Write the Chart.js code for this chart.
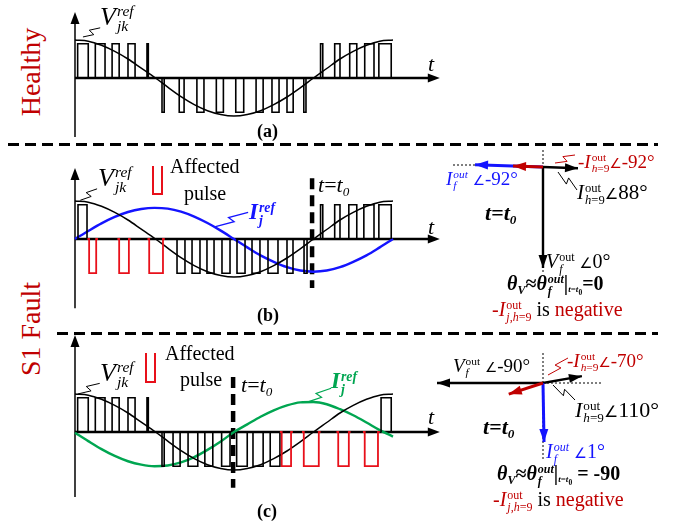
<!DOCTYPE html>
<html>
<head>
<meta charset="utf-8">
<script src="https://cdn.jsdelivr.net/npm/chart.js@4.4.1/dist/chart.umd.min.js"></script>
<style>
  html, body { margin: 0; padding: 0; background: #fff; }
  #page { position: relative; width: 673px; height: 525px; overflow: hidden; background: #fff; }
  canvas { position: absolute; }
  .lbl { position: absolute; font-family: "Liberation Serif", "Times New Roman", serif; white-space: nowrap; line-height: 1; color: #000; }
  .ss { display: inline-flex; flex-direction: column; font-size: 0.6em; line-height: 0.95; vertical-align: 0.55em; margin-left: 1px; }
  .sb { font-size: 0.6em; vertical-align: -0.3em; }
  .ang { font-family: "DejaVu Sans", sans-serif; font-size: 0.72em; font-weight: normal; }
  .rot { transform: translate(-50%, -50%) rotate(-90deg); transform-origin: center; color: #c00000; font-size: 28px; }
  .dash { position: absolute; height: 3px; background: repeating-linear-gradient(to right, #000 0 11px, transparent 11px 17px); }
  .icon { position: absolute; border: 2px solid #e8101a; border-top: none; width: 7px; }
  .red { color: #c00000; }
  .blue { color: #1414ff; }
  .green { color: #00a651; }
</style>
</head>
<body>
<div id="page">
  <canvas id="waveA" width="400" height="145" style="left:55px;top:0px"></canvas>
  <canvas id="waveB" width="400" height="186" style="left:55px;top:146px"></canvas>
  <canvas id="waveC" width="400" height="191" style="left:55px;top:334px"></canvas>
  <canvas id="phasorB" width="253" height="186" style="left:420px;top:146px"></canvas>
  <canvas id="phasorC" width="253" height="191" style="left:420px;top:334px"></canvas>
</div>
<script>

// electrical angle (deg) sampled every 15 deg over one fundamental period
const angles = [0, 15, 30, 45, 60, 75, 90, 105, 120, 135, 150, 165, 180,
  195, 210, 225, 240, 255, 270, 285, 300, 315, 330, 345, 360];

// V_jk^ref (same in all three panels)
const vRef = [1.0, 0.97, 0.86, 0.7, 0.5, 0.26, 0.02, -0.24, -0.49, -0.7, -0.86, -0.96, -1.0,
  -0.96, -0.86, -0.7, -0.5, -0.26, 0.0, 0.25, 0.5, 0.7, 0.86, 0.97, 1.0];

// I_j^ref in panel (b) and (c)
const iRefB = [0.0, 0.21, 0.41, 0.58, 0.71, 0.79, 0.82, 0.8, 0.72, 0.59, 0.42, 0.22, 0.0,
  -0.22, -0.43, -0.6, -0.74, -0.83, -0.86, -0.83, -0.74, -0.6, -0.43, -0.22, 0.0];
const iRefC = [-0.02, -0.24, -0.45, -0.63, -0.77, -0.86, -0.9, -0.88, -0.8, -0.66, -0.47, -0.25, 0.0,
  0.2, 0.4, 0.57, 0.7, 0.78, 0.79, 0.73, 0.6, 0.44, 0.25, 0.05, -0.12];

// switching pulses [on, off] in deg
const aPos = [[3, 15], [23, 34], [42, 50], [60, 68], [81.5, 83], [278, 280.5], [294, 300], [311, 319], [328, 338.5], [344, 358]];
const aNeg = [[98.5, 101], [118, 123.5], [138, 146], [160, 168], [182, 191], [205, 213], [223, 231], [240, 247], [259, 261.5]];

const bPos = [[3.4, 13.6], [278, 280.5], [294, 300], [310, 319], [327, 338.5], [344, 358]];
const bNeg = [[115.5, 124.5], [132.5, 141.5], [149.4, 157.4], [166.4, 175.5], [183.4, 192.5], [200.4, 209.4], [218.5, 229.8], [240, 246.8], [259.3, 262.7]];
const bRed = [[16, 24], [50, 61], [84, 99.6]];

const cPos = [[3, 15], [23, 34], [42, 50], [60, 68], [81.5, 83], [346.5, 358]];
const cNeg = [[98.5, 101], [111, 119], [128, 139], [147, 156], [166, 175.5], [183, 195], [201.5, 213], [221, 232]];
const cRed = [[234, 244.6], [259, 276], [298, 310], [328, 343]];

const t0B = 268.4;
const t0C = 179;

// phasors: angle as drawn (0 = down, +90 = right), length
const phasorNamesB = ["V_f", "I_f", "-I_h9", "I_h9"];
const phasorAngB = [0, -92, -92, 88];
const phasorLenB = [101, 68, 30, 35];

const phasorNamesC = ["V_f", "I_f", "-I_h9", "I_h9"];
const phasorAngC = [-90, 1, -72, 100];
const phasorLenC = [106, 59, 36, 39.5];

const PULSE = 0.9;
const BLACK = "#000";
const RED = "#e8101a";
const BLUE = "#1414ff";
const GREEN = "#00a651";

function curve(values) {
  return angles.map((a, i) => ({ x: a, y: values[i] }));
}

function pulsePath(list, sign, stub) {
  const pts = [];
  list.forEach(p => {
    const s = stub || 0;
    pts.push({ x: p[0] - s, y: 0 });
    pts.push({ x: p[0], y: 0 });
    pts.push({ x: p[0], y: sign * PULSE });
    pts.push({ x: p[1], y: sign * PULSE });
    pts.push({ x: p[1], y: 0 });
    pts.push({ x: p[1] + s, y: 0 });
    pts.push({ x: p[1], y: null });
  });
  return pts;
}

function yRange(height, baseFromTop) {
  return { min: -(height - baseFromTop) / 38, max: baseFromTop / 38 };
}

function arrowHead(ctx, x0, y0, x1, y1, len, wid, color) {
  const a = Math.atan2(y1 - y0, x1 - x0);
  ctx.save();
  ctx.fillStyle = color;
  ctx.beginPath();
  ctx.moveTo(x1, y1);
  ctx.lineTo(x1 - len * Math.cos(a) + wid * Math.sin(a), y1 - len * Math.sin(a) - wid * Math.cos(a));
  ctx.lineTo(x1 - len * Math.cos(a) - wid * Math.sin(a), y1 - len * Math.sin(a) + wid * Math.cos(a));
  ctx.closePath();
  ctx.fill();
  ctx.restore();
}

function zigzag(ctx, x0, y0, x1, y1, color, width) {
  const dx = x1 - x0, dy = y1 - y0;
  const l = Math.hypot(dx, dy);
  const nx = -dy / l * 3, ny = dx / l * 3;
  ctx.save();
  ctx.strokeStyle = color;
  ctx.lineWidth = width || 1;
  ctx.beginPath();
  ctx.moveTo(x0, y0);
  ctx.lineTo(x0 + dx * 0.55 + nx, y0 + dy * 0.55 + ny);
  ctx.lineTo(x0 + dx * 0.45 - nx, y0 + dy * 0.45 - ny);
  ctx.lineTo(x1, y1);
  ctx.stroke();
  ctx.restore();
}

// axes with arrows + leader lines, in data units of the chart
const wavePlugin = {
  id: "waveAxes",
  beforeDatasetsDraw(chart, args, opts) {
    const { ctx, scales: { x, y } } = chart;
    const x0 = x.getPixelForValue(0);
    const xe = x.getPixelForValue(413);
    const yb = y.getPixelForValue(0);
    ctx.save();
    ctx.strokeStyle = BLACK;
    ctx.lineWidth = 1.5;
    ctx.beginPath();
    ctx.moveTo(x0, y.getPixelForValue(opts.yLow));
    ctx.lineTo(x0, y.getPixelForValue(opts.yHigh) + 8);
    ctx.stroke();
    arrowHead(ctx, x0, yb, x0, y.getPixelForValue(opts.yHigh), 12, 4.5, BLACK);
    ctx.lineWidth = 2.5;
    ctx.beginPath();
    ctx.moveTo(x0, yb);
    ctx.lineTo(xe - 8, yb);
    ctx.stroke();
    arrowHead(ctx, x0, yb, xe, yb, 12, 4.5, BLACK);
    ctx.restore();
  },
  afterDatasetsDraw(chart, args, opts) {
    const { ctx, scales: { x, y } } = chart;
    (opts.leaders || []).forEach(l => {
      zigzag(ctx, x.getPixelForValue(l[0]), y.getPixelForValue(l[1]),
        x.getPixelForValue(l[2]), y.getPixelForValue(l[3]), l[4], l[5]);
    });
  }
};

const phasorPlugin = {
  id: "phasorArrows",
  afterDatasetsDraw(chart, args, opts) {
    const { ctx } = chart;
    chart.data.datasets.forEach((ds, i) => {
      if (!ds.arrow) return;
      const pts = chart.getDatasetMeta(i).data;
      const a = pts[0], b = pts[pts.length - 1];
      arrowHead(ctx, a.x, a.y, b.x, b.y, 13, 4.5, ds.borderColor);
    });
    const { scales: { x, y } } = chart;
    (opts.leaders || []).forEach(l => {
      zigzag(ctx, x.getPixelForValue(l[0]), y.getPixelForValue(l[1]),
        x.getPixelForValue(l[2]), y.getPixelForValue(l[3]), l[4], l[5]);
    });
  }
};

function line(data, color, width, extra) {
  return Object.assign({
    data, borderColor: color, borderWidth: width, pointRadius: 0,
    fill: false, spanGaps: false, showLine: true
  }, extra || {});
}

function waveChart(id, height, base, datasets, opts) {
  return new Chart(document.getElementById(id), {
    type: "line",
    data: { datasets },
    options: {
      responsive: false, animation: false, devicePixelRatio: 1,
      layout: { padding: 0 },
      events: [],
      scales: {
        x: { type: "linear", display: false, min: -22.64, max: 430.2 },
        y: Object.assign({ type: "linear", display: false }, yRange(height, base))
      },
      plugins: { legend: { display: false }, tooltip: { enabled: false }, waveAxes: opts }
    },
    plugins: [wavePlugin]
  });
}

const smooth = { cubicInterpolationMode: "monotone" };

waveChart("waveA", 145, 78, [
  line(pulsePath(aPos, 1), BLACK, 1.6),
  line(pulsePath(aNeg, -1), BLACK, 1.6),
  line(curve(vRef), BLACK, 1.5, smooth)
], { yLow: -1.55, yHigh: 1.74, leaders: [[9, 1.08, 28.5, 1.32, BLACK, 1]] });

waveChart("waveB", 186, 93, [
  line(pulsePath(bRed, -1, 2), RED, 1.8),
  line(pulsePath(bPos, 1), BLACK, 1.6),
  line(pulsePath(bNeg, -1), BLACK, 1.6),
  line(curve(vRef), BLACK, 1.5, smooth),
  line(curve(iRefB), BLUE, 2.4, smooth),
  line([{ x: t0B, y: 1.6 }, { x: t0B, y: -1.29 }], BLACK, 4.5, { borderDash: [11, 6] })
], { yLow: -1.82, yHigh: 1.87, leaders: [[6, 1.02, 25, 1.32, BLACK, 1], [158, 0.32, 196, 0.7, BLUE, 1.2]] });

waveChart("waveC", 191, 98, [
  line(pulsePath(cRed, -1, 2), RED, 1.8),
  line(pulsePath(cPos, 1), BLACK, 1.6),
  line(pulsePath(cNeg, -1), BLACK, 1.6),
  line(curve(vRef), BLACK, 1.5, smooth),
  line(curve(iRefC), GREEN, 2.4, smooth),
  line([{ x: t0C, y: 1.45 }, { x: t0C, y: -1.47 }], BLACK, 4.5, { borderDash: [11, 6] })
], { yLow: -1.71, yHigh: 2.55, leaders: [[3, 1.0, 28, 1.28, BLACK, 1], [262, 0.78, 290, 1.15, GREEN, 1.2]] });

function phasorSets(angs, lens, colors, widths) {
  return angs.map((a, i) => {
    const r = a * Math.PI / 180;
    return line([{ x: 0, y: 0 }, { x: lens[i] * Math.sin(r), y: -lens[i] * Math.cos(r) }],
      colors[i], widths[i], { arrow: true, order: i === 2 ? 0 : 1 });
  });
}

function phasorChart(id, ymax, ymin, datasets, opts) {
  return new Chart(document.getElementById(id), {
    type: "scatter",
    data: { datasets },
    options: {
      responsive: false, animation: false, devicePixelRatio: 1,
      layout: { padding: 0 },
      events: [],
      scales: {
        x: { type: "linear", display: false, min: -123, max: 130 },
        y: { type: "linear", display: false, min: ymin, max: ymax }
      },
      plugins: { legend: { display: false }, tooltip: { enabled: false }, phasorArrows: opts }
    },
    plugins: [phasorPlugin]
  });
}

const dotted = { borderDash: [2, 2], order: 5 };

phasorChart("phasorB", 21, -165, [
  ...phasorSets(phasorAngB, phasorLenB, [BLACK, BLUE, "#c00000", BLACK], [2.4, 3, 3, 2.4]),
  line([{ x: 0, y: 17 }, { x: 0, y: -106 }], BLACK, 1, dotted),
  line([{ x: -90, y: 2 }, { x: -68, y: 2 }], BLACK, 1, dotted)
], { leaders: [[12, 4, 32, 12, "#c00000", 1], [15, -5, 34, -23, BLACK, 1]] });

phasorChart("phasorC", 49, -142, [
  ...phasorSets(phasorAngC, phasorLenC, [BLACK, BLUE, "#c00000", BLACK], [2.4, 3, 3, 2.4]),
  line([{ x: 0, y: 30 }, { x: 0, y: -77 }], BLACK, 1, dotted),
  line([{ x: 0, y: 0 }, { x: 60, y: 0 }], BLACK, 1, dotted)
], { leaders: [[5, 8, 25, 25, "#c00000", 1], [10, -2, 32, -17, BLACK, 1]] });

// ---- text ----
const page = document.getElementById("page");

function lbl(x, base, size, html, cls, extra) {
  const d = document.createElement("div");
  d.className = "lbl " + (cls || "");
  d.style.left = x + "px";
  d.style.top = (base - 0.86 * size) + "px";
  d.style.fontSize = size + "px";
  if (extra) Object.assign(d.style, extra);
  d.innerHTML = html;
  page.appendChild(d);
  return d;
}

function rot(cx, cy, text) {
  const d = document.createElement("div");
  d.className = "lbl rot";
  d.style.left = cx + "px";
  d.style.top = cy + "px";
  d.textContent = text;
  page.appendChild(d);
}

function dash(x, y, w) {
  const d = document.createElement("div");
  d.className = "dash";
  d.style.left = x + "px";
  d.style.top = y + "px";
  d.style.width = w + "px";
  page.appendChild(d);
}

function icon(x, y, h) {
  const d = document.createElement("div");
  d.className = "icon";
  d.style.left = x + "px";
  d.style.top = y + "px";
  d.style.height = h + "px";
  page.appendChild(d);
}

const ang = '<span class="ang">∠</span>';
const vref = '<i>V</i><span class="ss"><i>ref</i><i>jk</i></span>';
const iref = '<b><i>I</i></b><span class="ss"><b><i>ref</i></b><b><i>j</i></b></span>';
const tt0 = '<i>t</i>=<i>t</i><span class="sb"><i>0</i></span>';
const tt0b = '<b><i>t</i>=<i>t</i><span class="sb"><i>0</i></span></b>';
const ih9 = '<i>I</i><span class="ss"><span>out</span><span><i>h</i>=9</span></span>';
const ivar = (sub) => '<i>I</i><span class="ss"><i>out</i><i>' + sub + '</i></span>';
const vf = '<i>V</i><span class="ss"><span>out</span><i>f</i></span>';
const theta = (val) => '<b><i>θ</i><span class="sb"><i>V</i></span>≈<i>θ</i><span class="ss"><i>out</i><i>f</i></span>|<span class="sb" style="font-size:0.45em"><i>t</i>=<i>t</i><sub>0</sub></span>' + val + '</b>';
const neg = '<span class="red">-<i>I</i><span class="ss"><span>out</span><span><i>j</i>,<i>h</i>=9</span></span></span> is <span class="red">negative</span>';

rot(31, 72, "Healthy");
rot(31, 329, "S1 Fault");

dash(8, 143, 650);
dash(57, 332, 601);

// panel (a)
lbl(100, 26, 26, vref);
lbl(428, 72, 22, "<i>t</i>");
lbl(257, 137, 18, "<b>(a)</b>");

// panel (b)
icon(152, 166, 27);
lbl(170, 173, 20, "Affected");
lbl(184, 200, 20, "pulse");
lbl(98, 187, 26, vref);
lbl(249, 220, 23, iref, "blue");
lbl(318, 193, 22, tt0);
lbl(428, 235, 22, "<i>t</i>");
lbl(257, 321, 18, "<b>(b)</b>");

// panel (c)
icon(145, 353, 28);
lbl(165, 360, 20, "Affected");
lbl(180, 386, 20, "pulse");
lbl(100, 382, 26, vref);
lbl(241, 393, 22, tt0);
lbl(331, 389, 23, iref, "green");
lbl(428, 425, 22, "<i>t</i>");
lbl(257, 517, 18, "<b>(c)</b>");

// phasor (b)
lbl(578, 168, 19, '-' + ih9 + ang + '-92°', "red");
lbl(577, 200, 21, ih9 + ang + '88°');
lbl(446, 185, 19, ivar("f") + ' ' + ang + '-92°', "blue");
lbl(485, 221, 22, tt0b);
lbl(546, 268, 20, vf + ' ' + ang + '0°');
lbl(507, 290, 20, theta("=0"));
lbl(492, 316, 20, neg);

// phasor (c)
lbl(453, 372, 19, vf + ' ' + ang + '-90°');
lbl(567, 367, 19, '-' + ih9 + ang + '-70°', "red");
lbl(575, 418, 22, ih9 + ang + '110°');
lbl(483, 435, 22, tt0b);
lbl(546, 458, 20, ivar("f") + ' ' + ang + '1°', "blue");
lbl(497, 480, 20, theta(" = -90"));
lbl(493, 506, 20, neg);
</script>
</body>
</html>
